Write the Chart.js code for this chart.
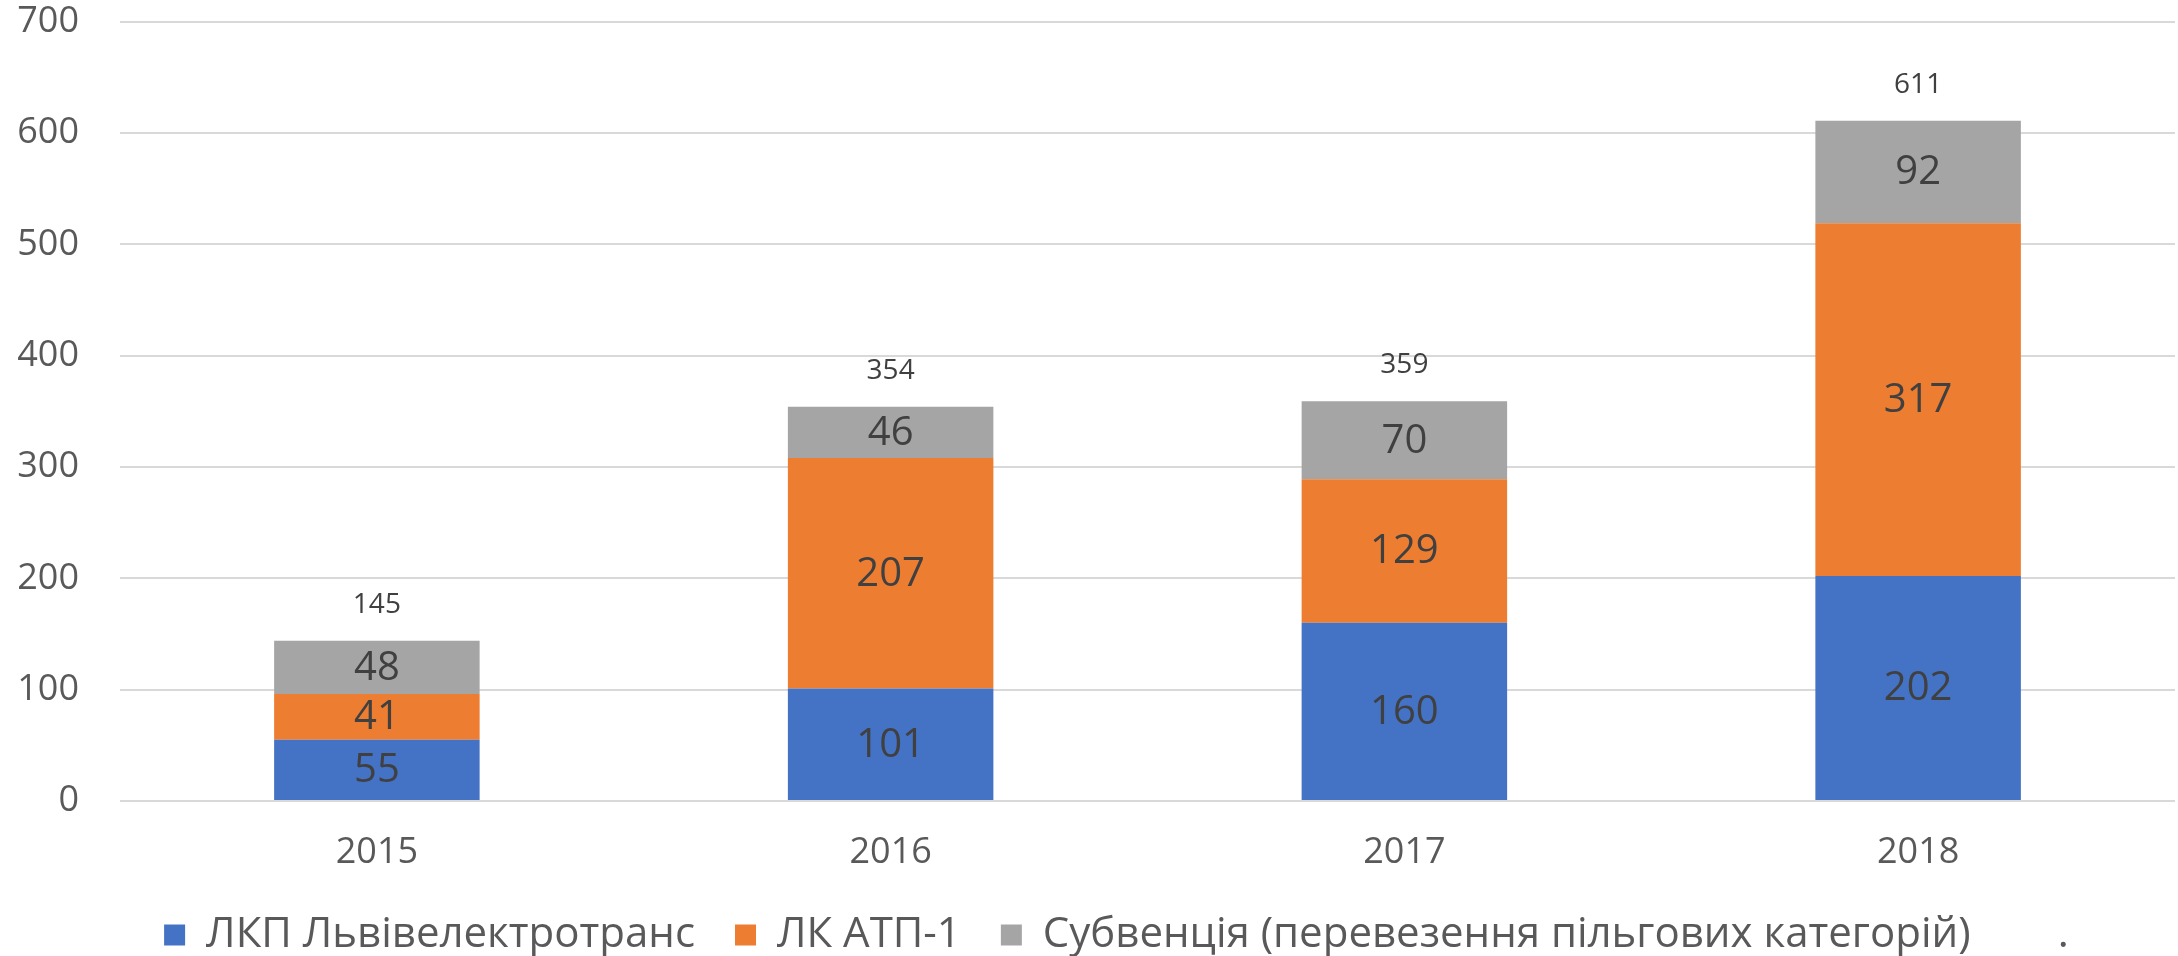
<!DOCTYPE html>
<html>
<head>
<meta charset="utf-8">
<script src="https://cdn.jsdelivr.net/npm/chart.js@4/dist/chart.umd.min.js"></script>
<style>
  html, body { margin: 0; padding: 0; background: #fff; }
  #wrap { width: 2178px; height: 956px; }
</style>
</head>
<body>
<div id="wrap"><canvas id="chart" width="2178" height="956"></canvas></div>
<script>
const years = ["2015", "2016", "2017", "2018"]
const seriesNames = ["ЛКП Львівелектротранс", "ЛК АТП-1", "Субвенція (перевезення пільгових категорій)        ."]
const electrotrans = [55, 101, 160, 202]
const atp1 = [41, 207, 129, 317]
const subvention = [48, 46, 70, 92]
const totals = [145, 354, 359, 611]
const yTicks = [0, 100, 200, 300, 400, 500, 600, 700]

const FONT = "'Open Sans', 'Noto Sans', sans-serif"

// draws the value inside each segment and the total above each column
const barLabels = {
  id: "barLabels",
  afterDatasetsDraw(chart) {
    const ctx = chart.ctx
    ctx.save()
    ctx.textAlign = "center"
    ctx.textBaseline = "middle"
    ctx.fillStyle = "#404040"
    ctx.font = "40px " + FONT
    chart.data.datasets.forEach((ds, i) => {
      chart.getDatasetMeta(i).data.forEach((bar, j) => {
        const mid = (bar.y + bar.base) / 2
        ctx.fillText(String(ds.data[j]), bar.x, mid + 1)
      })
    })
    const last = chart.data.datasets.length - 1
    ctx.font = "28px " + FONT
    chart.getDatasetMeta(last).data.forEach((bar, j) => {
      ctx.fillText(String(totals[j]), bar.x, bar.y - 36)
    })
    ctx.restore()
  }
}

// the legend in the original sits a bit right of centre (trailing dot)
const nudgeLegend = {
  id: "nudgeLegend",
  afterLayout(chart) {
    chart.legend.left += 29
    chart.legend.right += 29
  }
}

new Chart(document.getElementById("chart"), {
  type: "bar",
  data: {
    labels: years,
    datasets: [
      { label: seriesNames[0], data: electrotrans, backgroundColor: "#4472C4" },
      { label: seriesNames[1], data: atp1, backgroundColor: "#ED7D31" },
      { label: seriesNames[2], data: subvention, backgroundColor: "#A5A5A5" }
    ]
  },
  options: {
    responsive: false,
    animation: false,
    devicePixelRatio: 1,
    layout: { padding: { top: 2, right: 3, left: 0, bottom: -10 } },
    datasets: { bar: { barPercentage: 0.4, categoryPercentage: 1, borderWidth: 0 } },
    plugins: {
      legend: {
        position: "bottom",
        labels: {
          color: "#595959",
          font: { family: FONT, size: 42 },
          boxWidth: 21,
          boxHeight: 21,
          padding: 40
        }
      },
      tooltip: { enabled: false }
    },
    scales: {
      x: {
        stacked: true,
        grid: { display: false },
        border: { display: false },
        afterFit(scale) { scale.height = 73 },
        ticks: { color: "#595959", font: { family: FONT, size: 36 }, padding: 22 }
      },
      y: {
        stacked: true,
        min: 0,
        max: 700,
        afterBuildTicks(scale) { scale.ticks = yTicks.map(v => ({ value: v })) },
        afterFit(scale) { scale.width = 120 },
        grid: { color: "#D9D9D9", lineWidth: 2, drawTicks: true, tickLength: 41, tickColor: "rgba(0,0,0,0)" },
        border: { display: false },
        ticks: { color: "#595959", font: { family: FONT, size: 36 }, padding: 0 }
      }
    }
  },
  plugins: [barLabels, nudgeLegend]
})
</script>
</body>
</html>
